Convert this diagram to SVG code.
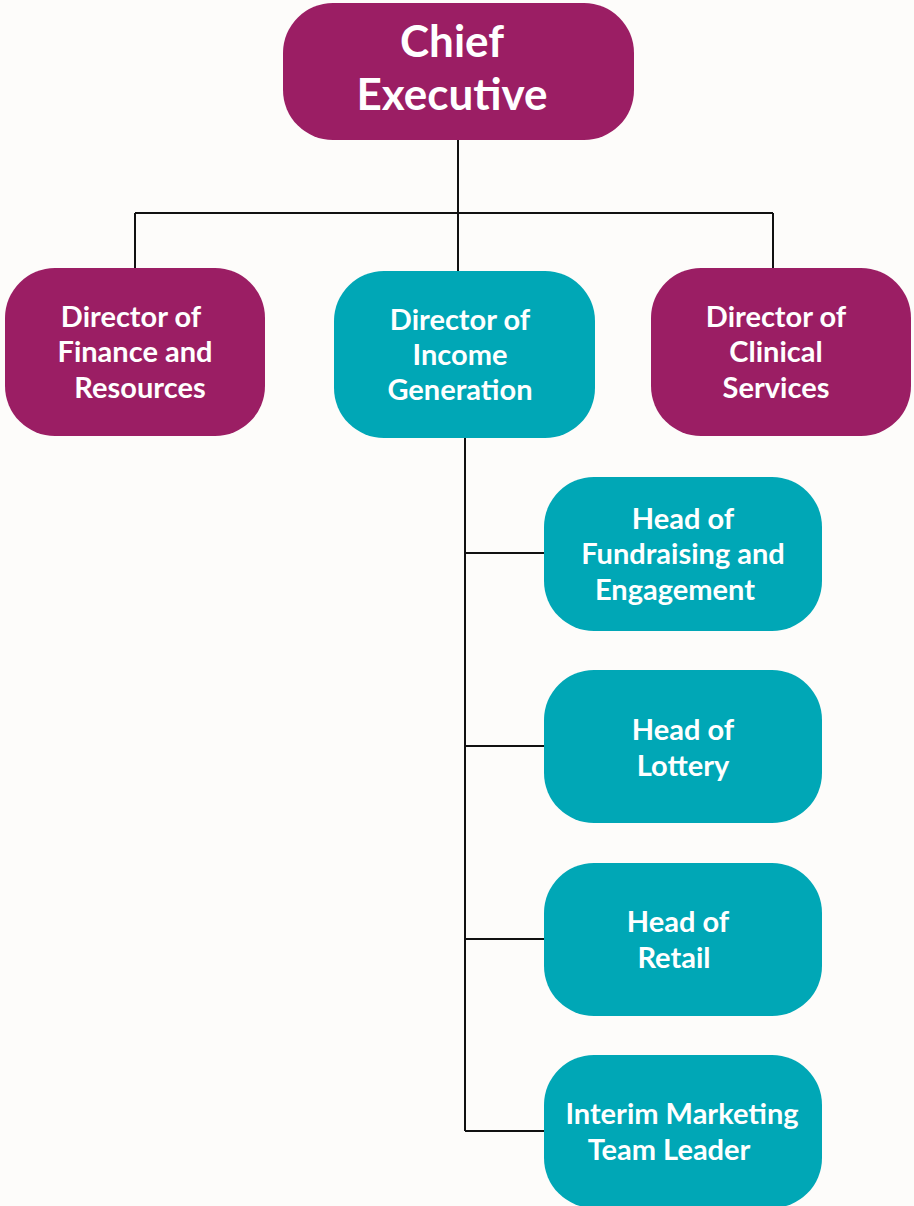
<svg xmlns="http://www.w3.org/2000/svg" width="914" height="1206" viewBox="0 0 914 1206">
<style>
.p{fill:#9B1E64}
.t{fill:#00A7B6}
.l{font-family:Lato,"Liberation Sans",sans-serif;font-weight:bold;fill:#fff;text-anchor:middle;font-size:29px}
.big{font-size:44px}
.c{stroke:#111;stroke-width:2;fill:none}
</style>
<rect width="914" height="1206" fill="#FDFCFA"/>
<g id="connectors">
<path class="c" d="M458 140V213M135 213H773M135 213V268M458 213V271M773 213V268"/>
<path class="c" d="M465 438V1131M465 553H544M465 746H544M465 939H544M465 1131H544"/>
</g>
<g id="ceo"><rect class="p" x="283" y="3" width="351" height="137" rx="50"/>
<text class="l big" x="452" y="57">Chief</text><text class="l big" x="452" y="110">Executive</text></g>
<g id="finance"><rect class="p" x="5" y="268" width="260" height="168" rx="50"/>
<text class="l" x="131" y="327">Director of</text><text class="l" x="135" y="362">Finance and</text><text class="l" x="140" y="398">Resources</text></g>
<g id="income"><rect class="t" x="334" y="271" width="261" height="167" rx="50"/>
<text class="l" x="460" y="330">Director of</text><text class="l" x="460" y="365">Income</text><text class="l" x="460" y="400">Generation</text></g>
<g id="clinical"><rect class="p" x="651" y="268" width="260" height="168" rx="50"/>
<text class="l" x="776" y="327">Director of</text><text class="l" x="776" y="362">Clinical</text><text class="l" x="776" y="398">Services</text></g>
<g id="fundraising"><rect class="t" x="544" y="477" width="278" height="154" rx="50"/>
<text class="l" x="683" y="529">Head of</text><text class="l" x="683" y="564">Fundraising and</text><text class="l" x="675" y="600">Engagement</text></g>
<g id="lottery"><rect class="t" x="544" y="670" width="278" height="153" rx="50"/>
<text class="l" x="683" y="740">Head of</text><text class="l" x="683" y="776">Lottery</text></g>
<g id="retail"><rect class="t" x="544" y="863" width="278" height="153" rx="50"/>
<text class="l" x="678" y="932">Head of</text><text class="l" x="674" y="968">Retail</text></g>
<g id="interim"><rect class="t" x="544" y="1055" width="278" height="153" rx="50"/>
<text class="l" x="682" y="1124">Interim Marketing</text><text class="l" x="669" y="1160">Team Leader</text></g>
</svg>
